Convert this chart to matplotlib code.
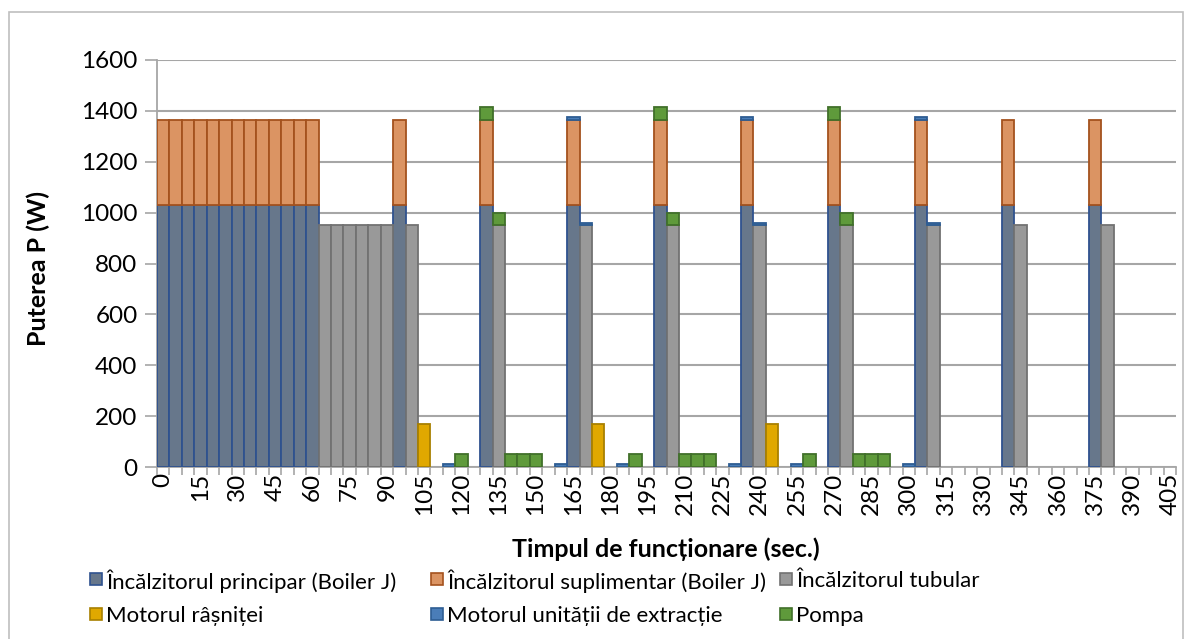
import matplotlib
matplotlib.use("Agg")
import matplotlib.pyplot as plt
import matplotlib.patches as mpatches
import numpy as np

plt.rcParams['font.family'] = ['Lato', 'DejaVu Sans']

# ---- data ----
times = [t for t in range(0, 410, 5)]  # 82 categories (sec.)

main_heater = [1030]*13 + [0]*6 + [1030] + [0]*6 + [1030] + [0]*6 + [1030] + [0]*6 + \
              [1030] + [0]*6 + [1030] + [0]*6 + [1030] + [0]*6 + [1030] + [0]*6 + [1030] + [0]*6 + [1030] + [0]*6
extra_heater = [335]*13 + [0]*6 + [335] + [0]*6 + [335] + [0]*6 + [335] + [0]*6 + \
               [335] + [0]*6 + [335] + [0]*6 + [335] + [0]*6 + [335] + [0]*6 + [335] + [0]*6 + [335] + [0]*6
tube_heater = [0]*13 + [950]*6 + [0, 950] + [0]*5 + [0, 950] + [0]*5 + [0, 950] + [0]*5 + [0, 950] + [0]*5 + \
              [0, 950] + [0]*5 + [0, 950] + [0]*5 + [0, 950] + [0]*5 + [0, 950] + [0]*5 + [0, 950] + [0]*5
grinder = [0]*82
for i in (21, 35, 49):
    grinder[i] = 170
extraction = [0]*82
for i in (23, 32, 33, 34, 37, 46, 47, 48, 51, 60, 61, 62):
    extraction[i] = 10
pump = [0]*82
for i in (24, 26, 27, 28, 29, 30, 38, 40, 41, 42, 43, 44, 52, 54, 55, 56, 57, 58):
    pump[i] = 50

series = [
    ("Încălzitorul principar (Boiler J)", main_heater, "#67778B", "#2F528F"),
    ("Încălzitorul suplimentar (Boiler J)", extra_heater, "#DB9463", "#A4521E"),
    ("Încălzitorul tubular", tube_heater, "#999999", "#727272"),
    ("Motorul râșniței", grinder, "#E0A800", "#A88000"),
    ("Motorul unității de extracție", extraction, "#4A7DB8", "#2E5D93"),
    ("Pompa", pump, "#5F9A3B", "#41702A"),
]

W, H = 1193, 639
fig = plt.figure(figsize=(W/100, H/100), dpi=100)
ax = fig.add_axes([157/W, 1-467/H, (1176-157)/W, (467-60)/H])

x = np.arange(len(times))
bottom = np.zeros(len(times))
for label, vals, fc, ec in series:
    v = np.array(vals, dtype=float)
    nz = v > 0
    ax.bar(x[nz], v[nz], width=1.0, bottom=bottom[nz], color=fc, edgecolor=ec,
           linewidth=1.3, label=label, zorder=3)
    bottom += v

ax.set_xlim(-0.5, len(times) - 0.5)
ax.set_ylim(0, 1600)
ax.set_yticks(range(0, 1601, 200))
ax.yaxis.grid(True, color="#A6A6A6", linewidth=1.5, zorder=0)
ax.set_axisbelow(True)

ax.set_xticks(x[::3])
ax.set_xticklabels([str(t) for t in times[::3]], rotation=90, fontsize=17.5)
ax.set_xticks(np.arange(-0.5, len(times), 1.0), minor=True)
ax.tick_params(axis='x', which='major', length=0, pad=4)
ax.tick_params(axis='x', which='minor', length=6, color="#A6A6A6", width=1.2)
ax.tick_params(axis='y', length=9, color="#A6A6A6", width=1.2, labelsize=17.5, pad=5)

for s in ("top", "right"):
    ax.spines[s].set_visible(False)
for s in ("left", "bottom"):
    ax.spines[s].set_color("#A6A6A6")
    ax.spines[s].set_linewidth(1.3)

fig.text(38/W, 1-268/H, "Puterea P (W)", fontsize=18, fontweight="bold",
         rotation=90, ha="center", va="center")
fig.text(666/W, 1-549/H, "Timpul de funcționare (sec.)", fontsize=18, fontweight="bold",
         ha="center", va="center")

# legend entries placed like the original (marker x, row y in pixels)
legend_pos = [(90, 579), (431, 579), (780, 579), (90, 614), (431, 614), (780, 614)]
msz = 12
for (label, vals, fc, ec), (lx, ly) in zip(series, legend_pos):
    fig.patches.append(mpatches.Rectangle((lx/W, 1-(ly+msz/2)/H), msz/W, msz/H,
                                          transform=fig.transFigure, facecolor=fc,
                                          edgecolor=ec, linewidth=1.2))
    fig.text((lx+msz+4)/W, 1-ly/H, label, fontsize=16, ha="left", va="center_baseline")

# outer chart border
fig.patches.append(mpatches.Rectangle((9/W, -0.01), (1183-9)/W, (639-12)/H + 0.01,
                                      transform=fig.transFigure, fill=False,
                                      edgecolor="#BFBFBF", linewidth=1.2))

fig.savefig("out.png", dpi=100)
